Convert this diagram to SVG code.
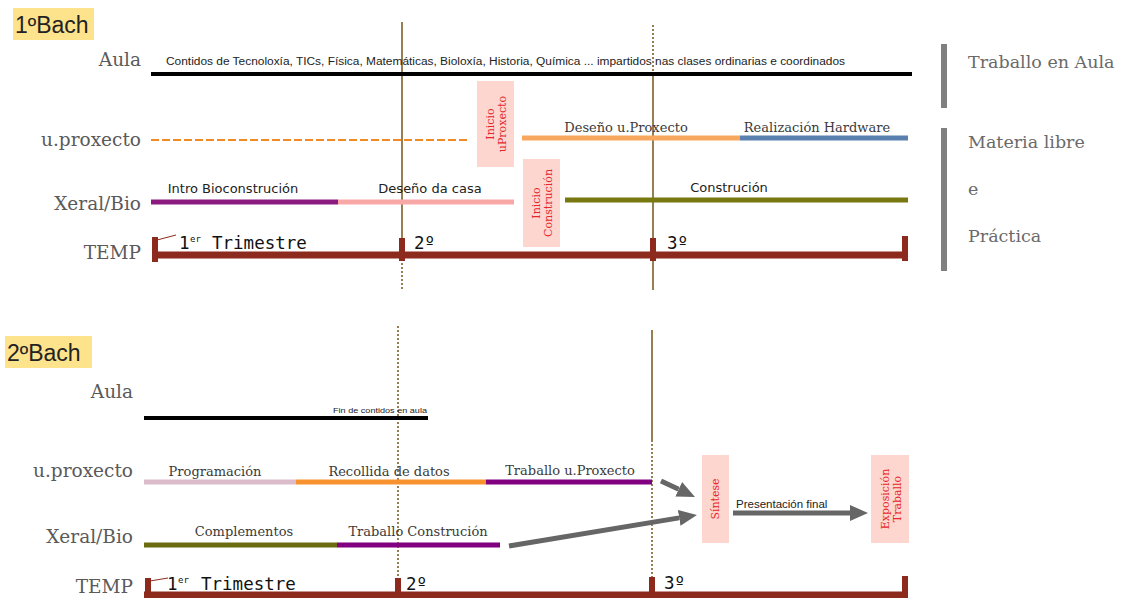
<svg xmlns="http://www.w3.org/2000/svg" width="1131" height="598" viewBox="0 0 1131 598">
<defs>
<style>
.title{font-family:"Liberation Sans",Arial,sans-serif;font-size:23px;fill:#222}
.hl{fill:#fde38c}
.rowlab{font-family:"DejaVu Serif",serif;font-size:18.5px;fill:#5a5a5a;text-anchor:end}
.side{font-family:"DejaVu Serif",serif;font-size:17.5px;fill:#6a6a6a}
.ser{font-family:"DejaVu Serif",serif;font-size:13px;fill:#3a3a3a;text-anchor:middle}
.sans{font-family:"DejaVu Sans",sans-serif;font-size:13px;fill:#222;text-anchor:middle}
.mono{font-family:"DejaVu Sans Mono",monospace;font-size:17.5px;fill:#111}
.sup{font-family:"DejaVu Sans Mono",monospace;font-size:9px;fill:#111}
.box{fill:#fcd6cf}
.boxt{font-family:"DejaVu Serif",serif;font-size:11px;fill:#e5262a;text-anchor:middle}
.vl{stroke:#735418;stroke-width:1.5;fill:none}
.dot{stroke-dasharray:2 2}
.bar{stroke-width:5;fill:none}
.temp{stroke:#8d2a1e;fill:none}
.sidebar{stroke:#808080;stroke-width:6}
.arr{stroke:#666;stroke-width:5;fill:none}
</style>
<marker id="ah" markerWidth="18" markerHeight="16" refX="0" refY="8" orient="auto" markerUnits="userSpaceOnUse">
<path d="M0,0 L18,8 L0,16 z" fill="#666"/>
</marker>
</defs>
<rect width="1131" height="598" fill="#ffffff"/>

<!-- ===== 1º Bach ===== -->
<g id="title1">
<rect class="hl" x="13" y="8" width="81" height="32"/>
<text class="title" x="15" y="33">1ºBach</text>
</g>

<g id="vlines1">
<line class="vl" x1="402" y1="22" x2="402" y2="255"/>
<line class="vl dot" x1="402" y1="255" x2="402" y2="290"/>
<line class="vl dot" x1="653" y1="25" x2="653" y2="74"/>
<line class="vl" x1="653" y1="74" x2="653" y2="290"/>
</g>

<g id="aula1">
<text class="rowlab" x="141" y="66">Aula</text>
<line x1="151" y1="74" x2="912" y2="74" stroke="#000" stroke-width="4"/>
<text x="166" y="65" font-family="Liberation Sans, Arial, sans-serif" font-size="10" fill="#222" textLength="679" lengthAdjust="spacingAndGlyphs">Contidos de Tecnoloxía, TICs, Física, Matemáticas, Bioloxía, Historia, Química ... impartidos nas clases ordinarias e coordinados</text>
</g>

<g id="uproxecto1">
<text class="rowlab" x="141" y="146">u.proxecto</text>
<line x1="151" y1="140" x2="470" y2="140" stroke="#f08a24" stroke-width="2" stroke-dasharray="8 3"/>
<line class="bar" x1="522" y1="138" x2="740" y2="138" stroke="#f7a85e"/>
<line class="bar" x1="740" y1="138" x2="908" y2="138" stroke="#5a80b0"/>
<text class="ser" x="626" y="132">Deseño u.Proxecto</text>
<text class="ser" x="817" y="132">Realización Hardware</text>
</g>

<g id="inicioProxecto">
<rect class="box" x="477" y="81" width="37" height="86"/>
<text class="boxt" transform="translate(495,124) rotate(-90)"><tspan x="0" y="-1">Inicio</tspan><tspan x="0" y="11">uProxecto</tspan></text>
</g>

<g id="xeral1">
<text class="rowlab" x="141" y="210">Xeral/Bio</text>
<line class="bar" x1="151" y1="202" x2="338" y2="202" stroke="#8b1a80"/>
<line class="bar" x1="338" y1="202" x2="514" y2="202" stroke="#f7a7a5"/>
<line class="bar" x1="565" y1="200" x2="908" y2="200" stroke="#787810"/>
<text class="sans" x="233" y="193">Intro Bioconstrución</text>
<text class="sans" x="430" y="193">Deseño da casa</text>
<text class="sans" x="729" y="192">Construción</text>
</g>

<g id="inicioConstrucion">
<rect class="box" x="523" y="159" width="37" height="88"/>
<text class="boxt" transform="translate(541,203) rotate(-90)"><tspan x="0" y="-1">Inicio</tspan><tspan x="0" y="11">Construción</tspan></text>
</g>

<g id="temp1">
<text class="rowlab" x="141" y="259">TEMP</text>
<line class="temp" x1="152" y1="255" x2="908" y2="255" stroke-width="7"/>
<line class="temp" x1="155" y1="237" x2="155" y2="262" stroke-width="6"/>
<line class="temp" x1="402" y1="238" x2="402" y2="261" stroke-width="6"/>
<line class="temp" x1="653" y1="238" x2="653" y2="261" stroke-width="6"/>
<line class="temp" x1="905" y1="236" x2="905" y2="261" stroke-width="6"/>
<line class="temp" x1="157" y1="240" x2="176" y2="235" stroke-width="1"/>
<text class="mono" x="179" y="249">1</text>
<text class="sup" x="190" y="242">er</text>
<text class="mono" x="212" y="249">Trimestre</text>
<text class="mono" x="414" y="249">2º</text>
<text class="mono" x="667" y="249">3º</text>
</g>

<g id="sideLabels">
<line class="sidebar" x1="944" y1="44" x2="944" y2="108"/>
<text class="side" x="968" y="68">Traballo en Aula</text>
<line class="sidebar" x1="944" y1="128" x2="944" y2="271"/>
<text class="side" x="968" y="148">Materia libre</text>
<text class="side" x="968" y="195">e</text>
<text class="side" x="968" y="242">Práctica</text>
</g>

<!-- ===== 2º Bach ===== -->
<g id="title2">
<rect class="hl" x="5" y="336" width="87" height="32"/>
<text class="title" x="7" y="361">2ºBach</text>
</g>

<g id="vlines2">
<line class="vl dot" x1="398" y1="326" x2="398" y2="580"/>
<line class="vl" x1="652" y1="330" x2="652" y2="440"/>
<line class="vl dot" x1="652" y1="440" x2="652" y2="580"/>
</g>

<g id="aula2">
<text class="rowlab" x="133" y="398">Aula</text>
<line x1="144" y1="418" x2="428" y2="418" stroke="#000" stroke-width="4"/>
<text x="333" y="413" font-family="Liberation Sans, Arial, sans-serif" font-size="7" fill="#222" textLength="94" lengthAdjust="spacingAndGlyphs">Fin de contidos en aula</text>
</g>

<g id="uproxecto2">
<text class="rowlab" x="133" y="477">u.proxecto</text>
<line class="bar" x1="144" y1="482" x2="296" y2="482" stroke="#dcbccb"/>
<line class="bar" x1="296" y1="482" x2="486" y2="482" stroke="#f7922e"/>
<line class="bar" x1="486" y1="482" x2="652" y2="482" stroke="#800080"/>
<text class="ser" x="215" y="476">Programación</text>
<text class="ser" x="389" y="476">Recollida de datos</text>
<text class="ser" x="570" y="475">Traballo u.Proxecto</text>
</g>

<g id="xeral2">
<text class="rowlab" x="133" y="543">Xeral/Bio</text>
<line class="bar" x1="144" y1="545" x2="337" y2="545" stroke="#6b6b10"/>
<line class="bar" x1="337" y1="545" x2="500" y2="545" stroke="#800080"/>
<text class="ser" x="244" y="536">Complementos</text>
<text class="ser" x="418" y="536">Traballo Construción</text>
</g>

<g id="temp2">
<text class="rowlab" x="133" y="593">TEMP</text>
<line class="temp" x1="144" y1="595" x2="908" y2="595" stroke-width="7"/>
<line class="temp" x1="148" y1="578" x2="148" y2="598" stroke-width="6"/>
<line class="temp" x1="398" y1="578" x2="398" y2="598" stroke-width="6"/>
<line class="temp" x1="652" y1="577" x2="652" y2="598" stroke-width="6"/>
<line class="temp" x1="905" y1="576" x2="905" y2="598" stroke-width="6"/>
<line class="temp" x1="150" y1="581" x2="168" y2="578" stroke-width="1"/>
<text class="mono" x="167" y="590">1</text>
<text class="sup" x="178" y="583">er</text>
<text class="mono" x="201" y="590">Trimestre</text>
<text class="mono" x="406" y="590">2º</text>
<text class="mono" x="664" y="589">3º</text>
</g>

<g id="sintese">
<rect class="box" x="702" y="455" width="27" height="88"/>
<text class="boxt" font-size="12.5" transform="translate(715,499) rotate(-90)" y="4">Síntese</text>
</g>

<g id="exposicion">
<rect class="box" x="871" y="455" width="38" height="88"/>
<text class="boxt" font-size="12" transform="translate(890,499) rotate(-90)"><tspan x="0" y="-1">Exposición</tspan><tspan x="0" y="11">Traballo</tspan></text>
</g>

<g id="connectors">
<line class="arr" x1="661" y1="481" x2="678.7" y2="489.3" marker-end="url(#ah)"/>
<line class="arr" x1="509" y1="546" x2="679.2" y2="517.9" marker-end="url(#ah)"/>
<line class="arr" x1="733" y1="513" x2="850" y2="513" marker-end="url(#ah)"/>
<text x="736" y="508" font-family="Liberation Sans, Arial, sans-serif" font-size="11.5" fill="#222">Presentación  final</text>
</g>
</svg>
